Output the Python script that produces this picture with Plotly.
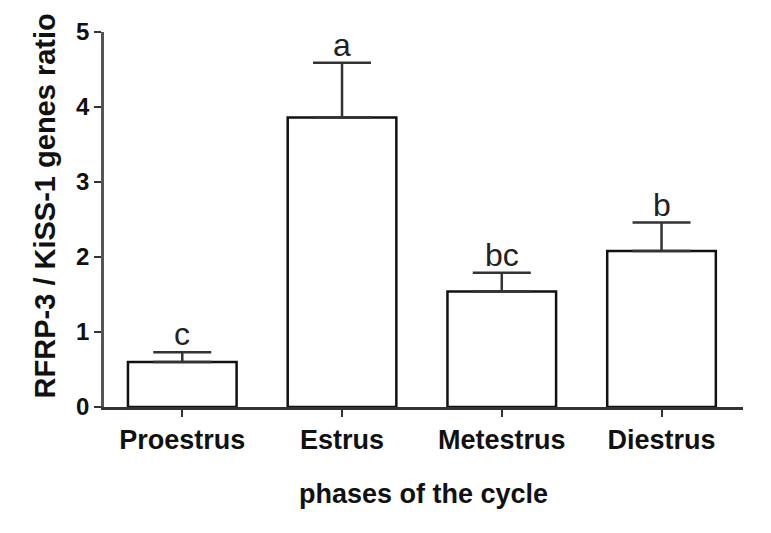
import plotly.graph_objects as go

categories = ["Proestrus", "Estrus", "Metestrus", "Diestrus"]
means = [0.60, 3.86, 1.54, 2.08]
upper = [0.73, 4.59, 1.79, 2.46]
letters = ["c", "a", "bc", "b"]

err_plus = [u - m for u, m in zip(upper, means)]

FONT = "Liberation Sans, Arial, sans-serif"

fig = go.Figure()
fig.add_trace(go.Bar(
    x=categories, y=means,
    marker=dict(color="white", line=dict(color="#111111", width=2.5)),
    error_y=dict(type="data", symmetric=False, array=err_plus,
                 arrayminus=[0] * len(means), color="#333333",
                 thickness=2.5, width=29),
    showlegend=False,
))

for c, u, t in zip(categories, upper, letters):
    fig.add_annotation(x=c, y=u, text=t, showarrow=False, yanchor="bottom",
                       yshift=-2, font=dict(family=FONT, size=32, color="#222222"))

fig.add_annotation(xref="paper", yref="paper", x=0, y=0.535, xshift=-59,
                   xanchor="center", yanchor="middle", textangle=-90,
                   text="<b>RFRP-3 / KiSS-1 genes ratio</b>", showarrow=False,
                   font=dict(family=FONT, size=29, color="#111111"))

fig.update_layout(
    width=763, height=525,
    margin=dict(l=96, r=28, t=24, b=126, autoexpand=False),
    paper_bgcolor="white", plot_bgcolor="white",
    bargap=0.32,
    font=dict(family=FONT, color="#111111"),
)
fig.update_xaxes(
    range=[-0.49, 3.51], showline=True, linecolor="#333333", linewidth=2.5,
    ticks="outside", ticklen=7, tickwidth=2, tickcolor="#333333",
    showgrid=False, zeroline=False, automargin=False,
    tickfont=dict(family=FONT, size=27, color="#111111", weight="bold"),
    title=dict(text="<b>phases of the cycle</b>", standoff=30,
               font=dict(family=FONT, size=27, color="#111111")),
)
fig.update_yaxes(
    range=[0, 5], tickvals=[0, 1, 2, 3, 4, 5], showline=True,
    linecolor="#555555", linewidth=2.5,
    ticks="outside", ticklen=7, tickwidth=2, tickcolor="#333333",
    showgrid=False, zeroline=False, automargin=False,
    tickfont=dict(family=FONT, size=24, color="#111111", weight="bold"),
)

fig.write_html("out.html")
